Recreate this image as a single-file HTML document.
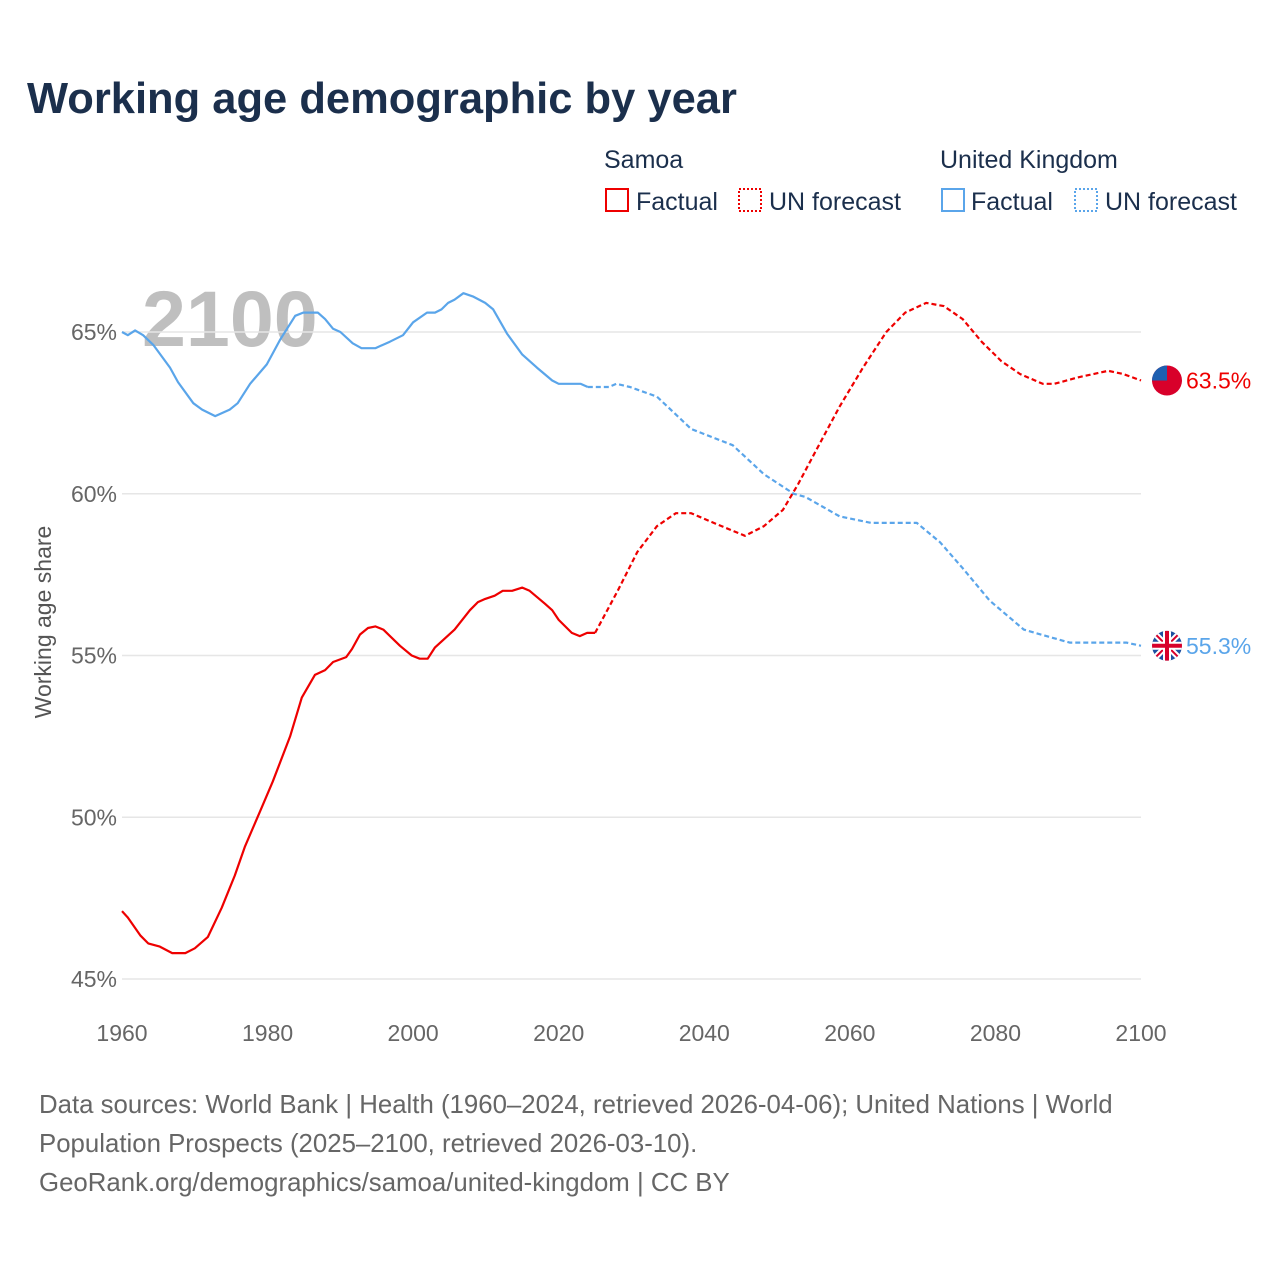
<!DOCTYPE html>
<html><head><meta charset="utf-8"><style>
body{margin:0;background:#fff;width:1280px;height:1280px;overflow:hidden;font-family:"Liberation Sans",sans-serif}
svg{position:absolute;left:0;top:0}
</style></head><body>
<svg id="chart" width="1280" height="1280">
<text x="27" y="113" font-size="43.5" font-weight="bold" fill="#1b2f4c">Working age demographic by year</text>
<g font-size="25" fill="#1b2f4c">
<text x="604" y="168">Samoa</text>
<text x="940" y="168">United Kingdom</text>
<rect x="606" y="189" width="22" height="22" fill="none" stroke="#ee0000" stroke-width="2"/>
<text x="636" y="210">Factual</text>
<rect x="739" y="189" width="22" height="22" fill="none" stroke="#ee0000" stroke-width="2" stroke-dasharray="2,2"/>
<text x="769" y="210">UN forecast</text>
<rect x="942" y="189" width="22" height="22" fill="none" stroke="#5aa5ea" stroke-width="2"/>
<text x="971" y="210">Factual</text>
<rect x="1075" y="189" width="22" height="22" fill="none" stroke="#5aa5ea" stroke-width="2" stroke-dasharray="2,2"/>
<text x="1105" y="210">UN forecast</text>
</g>
<text x="142" y="346" font-size="79" font-weight="bold" fill="#aaa" fill-opacity="0.75">2100</text>
<text transform="translate(51,622) rotate(-90)" text-anchor="middle" font-size="23" fill="#555">Working age share</text>
<g id="grid"></g><g id="lines"></g><g id="marks"></g>
<g font-size="25.8" fill="#666">
<text x="39" y="1113">Data sources: World Bank | Health (1960–2024, retrieved 2026-04-06); United Nations | World</text>
<text x="39" y="1152">Population Prospects (2025–2100, retrieved 2026-03-10).</text>
<text x="39" y="1191">GeoRank.org/demographics/samoa/united-kingdom | CC BY</text>
</g>
</svg>
<script>
const yTicks=[45,50,55,60,65];
const xTicks=[1960,1980,2000,2020,2040,2060,2080,2100];
const ukFactYears=[1960,1960.8,1961.8,1962.9,1964.3,1966.6,1967.7,1969.8,1971,1972.8,1974.8,1975.9,1977.6,1979.9,1981.7,1983.8,1984.9,1986.9,1987.9,1989,1990,1991.7,1992.9,1994.8,1996.8,1998.6,2000,2001.9,2003,2003.9,2004.8,2005.7,2006.9,2008.2,2009.9,2011,2012.9,2015,2017,2019.1,2020,2023,2024];
const ukFactVals=[65.0,64.9,65.05,64.9,64.6,63.9,63.45,62.8,62.6,62.4,62.6,62.8,63.4,64.0,64.75,65.5,65.6,65.6,65.4,65.1,65.0,64.65,64.5,64.5,64.7,64.9,65.3,65.6,65.6,65.7,65.9,66.0,66.2,66.1,65.9,65.7,64.95,64.3,63.9,63.5,63.4,63.4,63.3];
const ukFcYears=[2024,2026.9,2027.9,2029.8,2033.5,2038.2,2043.9,2048.2,2052.3,2053.9,2058.6,2062.9,2069.2,2072.4,2075.5,2079.2,2083.9,2087,2090.2,2098,2100];
const ukFcVals=[63.3,63.3,63.4,63.3,63.0,62.0,61.5,60.6,60.0,59.9,59.3,59.1,59.1,58.5,57.7,56.7,55.8,55.6,55.4,55.4,55.3];
const wsFactYears=[1960,1960.8,1962.5,1963.6,1965.2,1966.9,1968.7,1970,1971.8,1973.7,1975.5,1976.9,1979,1980.7,1983.1,1984.7,1986.5,1987.9,1989,1990.8,1991.6,1992.7,1993.8,1994.8,1995.9,1998.2,1999.8,2000.9,2002,2003,2005.7,2007.8,2008.9,2009.9,2011.2,2012.3,2013.6,2015,2016,2018.1,2019.1,2020,2021.8,2022.9,2023.9,2025];
const wsFactVals=[47.1,46.9,46.35,46.1,46.0,45.8,45.8,45.95,46.3,47.2,48.2,49.1,50.2,51.1,52.5,53.7,54.4,54.55,54.8,54.95,55.2,55.65,55.85,55.9,55.8,55.3,55.0,54.9,54.9,55.25,55.8,56.4,56.65,56.75,56.85,57.0,57.0,57.1,57.0,56.6,56.4,56.1,55.7,55.6,55.7,55.7];
const wsFcYears=[2025,2028.1,2030.8,2033.5,2036.1,2038.2,2041.3,2045.6,2048.2,2050.8,2052.9,2055.5,2058.6,2061.8,2065,2067.6,2070.5,2072.9,2075.5,2078.1,2080.8,2083.4,2086.5,2088.1,2091.4,2095.5,2097.6,2100];
const wsFcVals=[55.7,57.0,58.2,59.0,59.4,59.4,59.1,58.7,59.0,59.5,60.3,61.4,62.7,63.9,65.0,65.6,65.9,65.8,65.4,64.7,64.1,63.7,63.4,63.4,63.6,63.8,63.7,63.5];
const X=y=>122+(y-1960)*(1141-122)/140;
const Y=v=>979-(v-45)*(979-332)/20;
const NS='http://www.w3.org/2000/svg';
function mk(t,a,p){const e=document.createElementNS(NS,t);for(const k in a)e.setAttribute(k,a[k]);p.appendChild(e);return e;}
const grid=document.getElementById('grid');
yTicks.forEach(v=>{
 const l=mk('line',{x1:122,x2:1141,y1:Y(v),y2:Y(v),stroke:'#e6e6e6','stroke-width':1.5},grid);
 
 
 const t=mk('text',{x:117,y:Y(v)+8,'text-anchor':'end','font-size':23,fill:'#666'},grid);
 t.textContent=v+'%';
 
 
});
xTicks.forEach(v=>{
 const t=mk('text',{x:X(v),y:1041,'text-anchor':'middle','font-size':23,fill:'#666'},grid);
 t.textContent=v;
 
 
});
const lines=document.getElementById('lines');
function path(xs,vs,col,dash,name){
 const d=xs.map((x,i)=>(i?'L':'M')+X(x).toFixed(1)+','+Y(vs[i]).toFixed(1)).join('');
 const p=mk('path',{d:d,fill:'none',stroke:col,'stroke-width':2.2,'stroke-linejoin':'round'},lines);
 if(dash)p.setAttribute('stroke-dasharray','5,3');
 
 
}
path(ukFactYears,ukFactVals,'#5aa5ea',false,'uk-factual-line');
path(ukFcYears,ukFcVals,'#5aa5ea',true,'uk-forecast-line');
path(wsFactYears,wsFactVals,'#ee0000',false,'samoa-factual-line');
path(wsFcYears,wsFcVals,'#ee0000',true,'samoa-forecast-line');
const marks=document.getElementById('marks');
const wsEnd=wsFcVals[wsFcVals.length-1], ukEnd=ukFcVals[ukFcVals.length-1];
const fx=1167;
const gs=mk('g',{},marks);


mk('clipPath',{id:'cs'},gs).appendChild(document.createElementNS(NS,'circle'));
const cs=document.querySelector('#cs circle');cs.setAttribute('cx',fx);cs.setAttribute('cy',Y(wsEnd));cs.setAttribute('r',15);
mk('circle',{cx:fx,cy:Y(wsEnd),r:15,fill:'#d8002a'},gs);
mk('rect',{x:fx-15,y:Y(wsEnd)-15,width:15,height:15,fill:'#1e5fb0','clip-path':'url(#cs)'},gs);
const gu=mk('g',{},marks);


const cy=Y(ukEnd);
mk('clipPath',{id:'cu'},gu).appendChild(document.createElementNS(NS,'circle'));
const cu=document.querySelector('#cu circle');cu.setAttribute('cx',fx);cu.setAttribute('cy',cy);cu.setAttribute('r',15);
const gg=mk('g',{'clip-path':'url(#cu)'},gu);
mk('rect',{x:fx-15,y:cy-15,width:30,height:30,fill:'#1d4fa0'},gg);
mk('path',{d:`M${fx-15},${cy-15}L${fx+15},${cy+15}M${fx+15},${cy-15}L${fx-15},${cy+15}`,stroke:'#fff','stroke-width':6},gg);
mk('path',{d:`M${fx-15},${cy-15}L${fx+15},${cy+15}M${fx+15},${cy-15}L${fx-15},${cy+15}`,stroke:'#d8002a','stroke-width':2},gg);
mk('path',{d:`M${fx},${cy-15}V${cy+15}M${fx-15},${cy}H${fx+15}`,stroke:'#fff','stroke-width':8},gg);
mk('path',{d:`M${fx},${cy-15}V${cy+15}M${fx-15},${cy}H${fx+15}`,stroke:'#d8002a','stroke-width':4},gg);
const t1=mk('text',{x:1186,y:Y(wsEnd)+8,'font-size':23,fill:'#ee0000'},marks);
t1.textContent=wsEnd.toFixed(1)+'%';


const t2=mk('text',{x:1186,y:cy+8,'font-size':23,fill:'#5aa5ea'},marks);
t2.textContent=ukEnd.toFixed(1)+'%';


</script>
</body></html>
